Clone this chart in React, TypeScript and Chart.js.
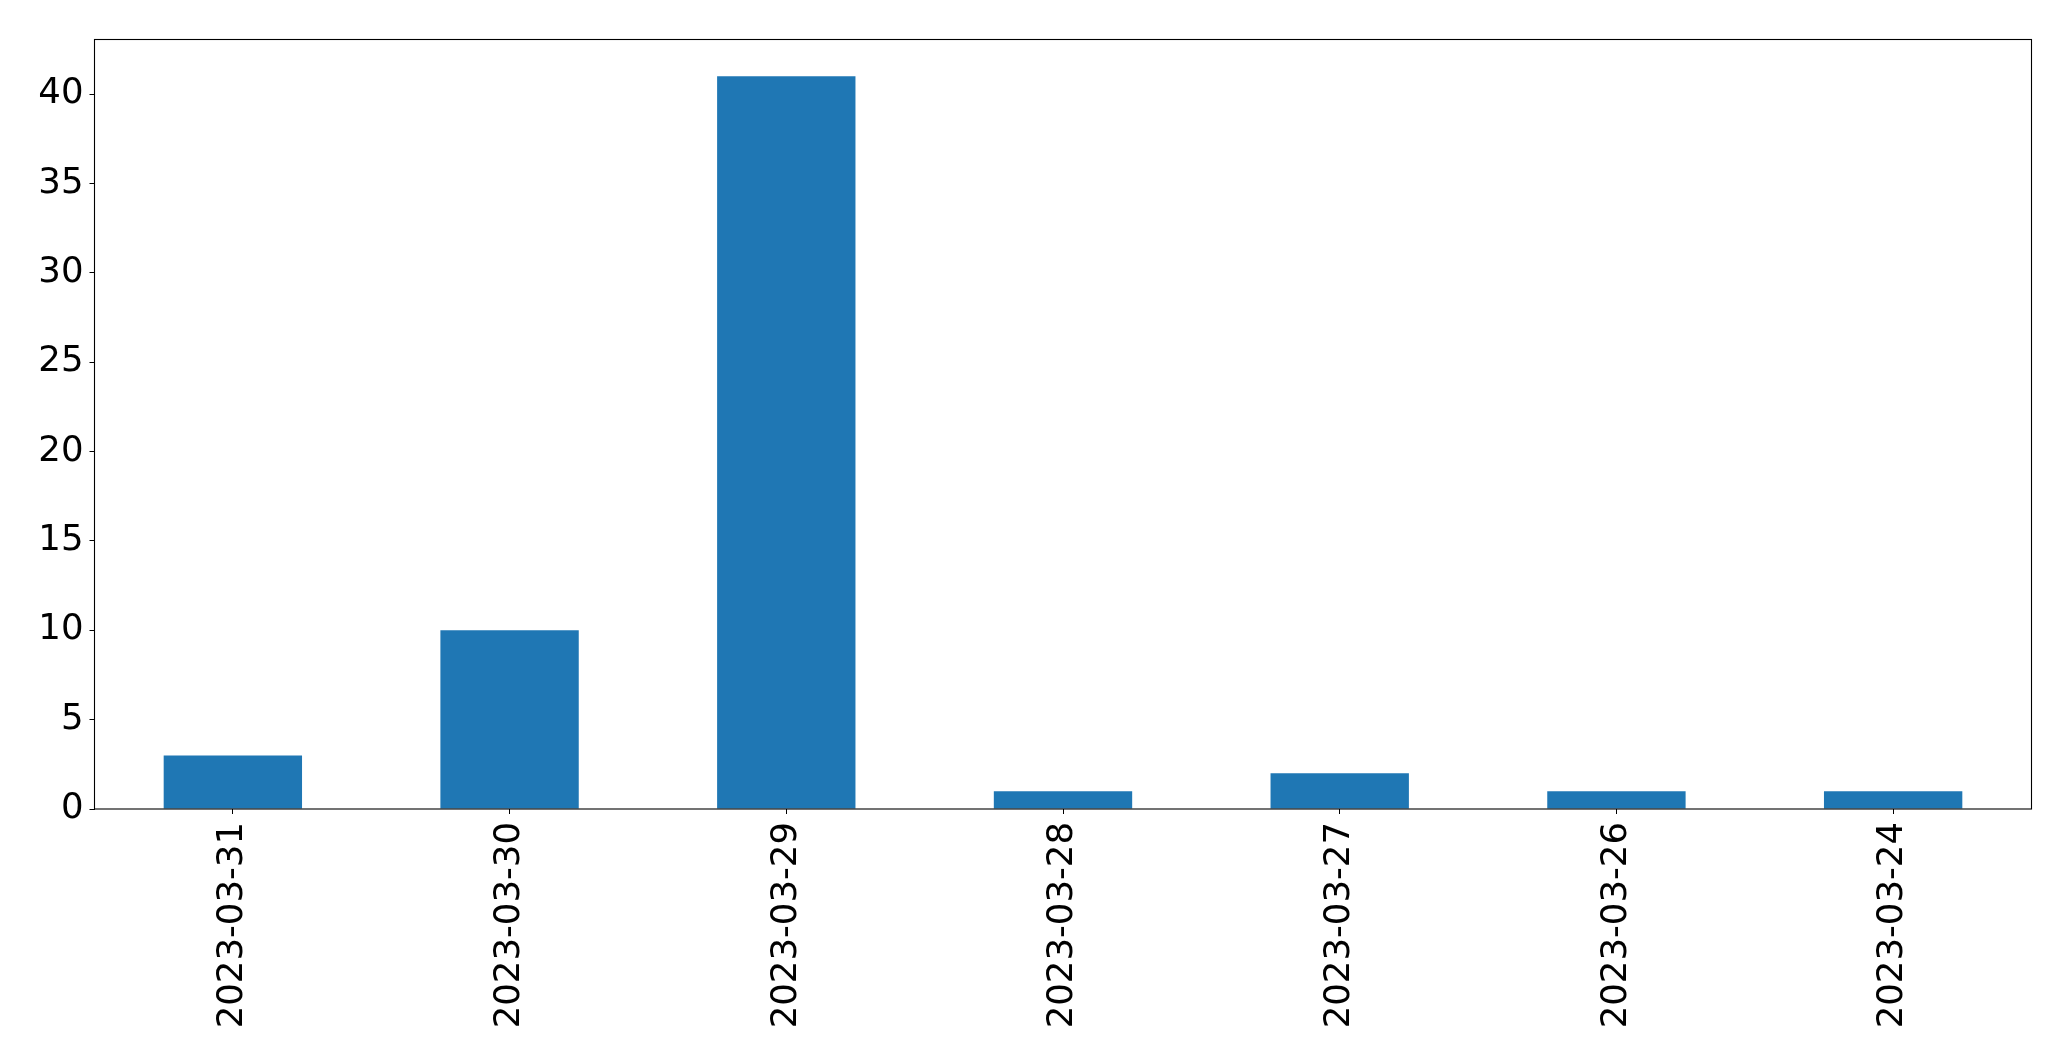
import React, { useEffect, useRef } from "react";
import { Chart, registerables } from "chart.js";

Chart.register(...registerables);

const categories = ["2023-03-31", "2023-03-30", "2023-03-29", "2023-03-28", "2023-03-27", "2023-03-26", "2023-03-24"];
const counts = [3, 10, 41, 1, 2, 1, 1];
const yMax = 43.05;
const yStep = 5;

const W = 2071;
const H = 1061;

const frame = {
  id: "frame",
  afterDraw(chart: any) {
    const { ctx, chartArea } = chart;
    ctx.save();
    ctx.strokeStyle = "#000";
    ctx.lineWidth = 1.1;
    ctx.strokeRect(chartArea.left, chartArea.top, chartArea.right - chartArea.left, chartArea.bottom - chartArea.top);
    ctx.restore();
  },
};

export default function App() {
  const ref = useRef<HTMLCanvasElement | null>(null);
  useEffect(() => {
    if (!ref.current) return;
    const font = { family: "'DejaVu Sans'", size: 35.5 };
    const chart = new Chart(ref.current, {
      type: "bar",
      data: {
        labels: categories,
        datasets: [
          {
            data: counts,
            backgroundColor: "#1f77b4",
            borderWidth: 0,
            barPercentage: 0.5,
            categoryPercentage: 1,
          },
        ],
      },
      options: {
        animation: false,
        responsive: false,
        maintainAspectRatio: false,
        devicePixelRatio: 1,
        layout: { padding: { left: 0, right: 39.5, top: 39.5, bottom: 0 } },
        plugins: { legend: { display: false }, tooltip: { enabled: false }, title: { display: false } },
        scales: {
          x: {
            grid: { display: true, offset: false, drawOnChartArea: false, drawTicks: true, tickLength: 5, color: "#000", lineWidth: 1 },
            border: { display: false },
            ticks: { color: "#000", font, minRotation: 90, maxRotation: 90, padding: 8, autoSkip: false },
            afterFit(scale: any) {
              scale.height = 252;
            },
          },
          y: {
            min: 0,
            max: yMax,
            grid: { display: true, drawOnChartArea: false, drawTicks: true, tickLength: 5, color: "#000", lineWidth: 1 },
            border: { display: false },
            ticks: { color: "#000", font, stepSize: yStep, includeBounds: false, padding: 6 },
            afterFit(scale: any) {
              scale.width = 94.5;
            },
          },
        },
      },
      plugins: [frame],
    });
    return () => chart.destroy();
  }, []);
  return (
    <div style={{ position: "absolute", left: 0, top: 0, width: W, height: H, background: "#fff" }}>
      <canvas ref={ref} width={W} height={H} style={{ display: "block", width: W, height: H }} />
    </div>
  );
}
